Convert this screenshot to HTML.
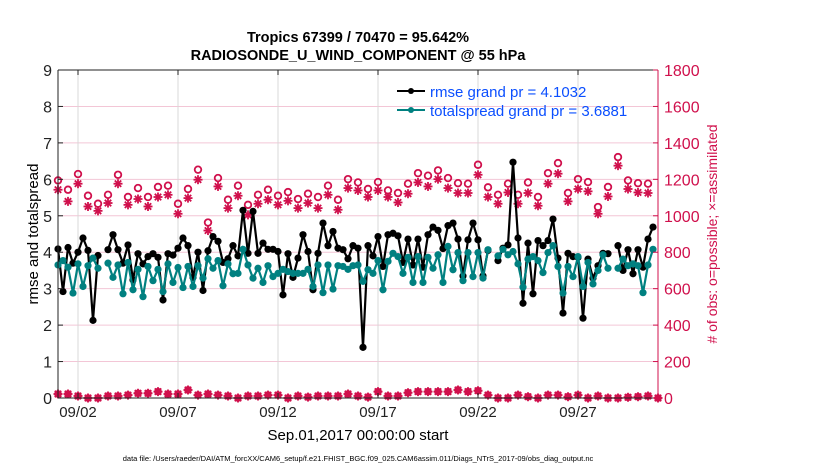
<!DOCTYPE html>
<html><head><meta charset="utf-8"><style>
body{margin:0;background:#fff;}
svg text{font-family:"Liberation Sans",sans-serif;}
</style></head><body>
<svg id="chart" width="830" height="470" viewBox="0 0 830 470" xmlns="http://www.w3.org/2000/svg">
<rect width="830" height="470" fill="#fff"/>
<text x="358" y="42" text-anchor="middle" font-size="14.5" font-weight="bold">Tropics 67399 / 70470 = 95.642%</text>
<text x="358" y="60" text-anchor="middle" font-size="14.5" font-weight="bold">RADIOSONDE_U_WIND_COMPONENT @ 55 hPa</text>
<g id="grid"></g>
<g id="marks"></g>
<g id="axes"></g>
<text transform="translate(38,234) rotate(-90)" text-anchor="middle" font-size="15">rmse and totalspread</text>
<text transform="translate(717,234) rotate(-90)" text-anchor="middle" font-size="14" fill="#d0104c"># of obs: o=possible; ×=assimilated</text>
<text x="358" y="440" text-anchor="middle" font-size="15">Sep.01,2017 00:00:00 start</text>
<text x="358" y="461" text-anchor="middle" font-size="7.5">data file: /Users/raeder/DAI/ATM_forcXX/CAM6_setup/f.e21.FHIST_BGC.f09_025.CAM6assim.011/Diags_NTrS_2017-09/obs_diag_output.nc</text>
<g>
<line x1="397" y1="91" x2="425" y2="91" stroke="#000" stroke-width="2"/>
<circle cx="411" cy="91" r="3" fill="#000"/>
<text x="430" y="97" font-size="15" fill="#0b4fff">rmse grand pr = 4.1032</text>
<line x1="397" y1="110" x2="425" y2="110" stroke="#008080" stroke-width="2"/>
<circle cx="411" cy="110" r="3" fill="#008080"/>
<text x="430" y="116" font-size="15" fill="#0b4fff">totalspread grand pr = 3.6881</text>
</g>
</svg>
<script>
const NS="http://www.w3.org/2000/svg";
const rmse=[4.09,2.92,4.13,3.7,4.0,4.39,4.05,2.13,3.91,null,4.07,4.48,4.07,3.7,4.2,3.24,3.96,3.68,3.88,3.96,3.86,2.69,3.96,3.92,4.11,4.39,4.18,3.31,4.0,2.95,4.04,4.43,4.3,3.72,3.82,4.18,3.9,5.15,3.97,5.12,3.97,4.25,4.08,4.08,4.02,2.83,3.96,3.31,3.84,4.48,4.02,2.97,3.97,4.8,4.18,4.57,4.11,4.07,3.82,4.18,4.11,1.39,4.18,3.9,4.43,3.61,4.48,4.52,4.45,3.72,4.36,3.65,4.36,3.59,4.48,4.69,4.6,4.1,4.73,4.8,4.36,3.35,4.34,4.8,4.34,3.35,4.05,null,3.77,4.11,4.2,6.47,4.39,2.6,4.25,2.86,4.32,4.18,4.32,4.91,3.84,2.33,3.97,3.88,3.86,2.19,3.81,3.29,3.63,3.97,3.96,null,4.18,3.5,4.07,3.41,4.07,3.59,4.36,4.69];
const spread=[3.65,3.77,3.59,2.88,3.68,3.06,3.63,3.84,3.56,null,3.7,3.31,3.65,2.86,3.72,2.97,3.53,2.78,3.61,3.22,3.53,2.92,3.68,3.17,3.58,3.03,3.61,3.06,3.63,3.29,3.82,3.56,3.77,3.08,3.68,3.41,3.42,4.08,3.65,3.29,3.56,3.17,3.63,3.33,3.42,3.53,3.47,3.42,3.42,3.42,3.53,3.06,3.65,2.89,3.65,2.99,3.63,3.61,3.53,3.63,3.65,3.2,3.52,3.42,3.77,2.97,3.75,3.97,3.88,3.42,3.86,3.17,3.88,3.17,3.86,3.56,3.93,3.17,4.16,3.52,3.99,3.22,3.99,3.33,3.99,3.29,4.07,null,3.9,4.08,3.93,4.02,3.68,3.04,3.81,3.88,3.77,3.44,3.99,4.18,3.61,2.88,3.61,3.33,3.88,3.06,3.72,3.13,3.5,3.93,3.56,null,3.56,3.81,3.63,3.68,3.63,2.89,3.65,4.08];
const possibleY=[122,150,103,168,192,165,105,172,145,172,142,138,192,148,90,248,115,180,138,195,165,150,168,157,178,162,172,138,180,118,128,148,127,152,160,132,100,108,92,115,130,132,75,143,165,132,165,128,172,100,70,160,118,127,202,142,52,122,130,132];
const assimY=[150,185,132,200,213,190,132,195,178,200,172,165,222,175,120,272,140,205,168,225,192,180,195,183,205,190,205,165,210,145,152,172,152,172,188,162,128,140,118,145,160,160,105,172,192,158,192,160,198,132,102,185,148,155,222,170,78,148,158,160];
const possibleObs=possibleY.map(v=>Math.round((774-v)/109.2*200));
const assimObs=assimY.map(v=>Math.round((774-v)/109.2*200));
const lowObs=[22,22,11,0,0,11,11,16,26,26,35,22,22,44,16,22,16,11,0,11,11,16,16,0,11,5,11,11,11,22,11,5,35,11,11,29,35,35,35,35,44,35,40,16,0,0,16,7,0,16,16,7,16,0,11,0,0,4,7,11,0];
const leftTicks=[0,1,2,3,4,5,6,7,8,9];
const rightTicks=[0,200,400,600,800,1000,1200,1400,1600,1800];
const xTickDays=[1,6,11,16,21,26];
const xTickLabels=["09/02","09/07","09/12","09/17","09/22","09/27"];

const X0=58,X1=658,Y0=398,Y1=70;
const xs=d=>X0+(X1-X0)*d/30;
const yl=v=>Y0-(Y0-Y1)*v/9;
const yr=v=>Y0-(Y0-Y1)*v/1800;
function mk(tag,attrs,parent){const e=document.createElementNS(NS,tag);for(const k in attrs)e.setAttribute(k,attrs[k]);parent.appendChild(e);return e;}
const grid=document.getElementById('grid'),marks=document.getElementById('marks'),axes=document.getElementById('axes');

leftTicks.forEach(t=>{if(t>0&&t<9){const l=mk('line',{x1:X0,x2:X1,y1:yl(t),y2:yl(t),stroke:'#f3c6d6','stroke-width':1},grid);

}});
xTickDays.forEach(d=>{const l=mk('line',{x1:xs(d),x2:xs(d),y1:Y1,y2:Y0,stroke:'#d8d8d8','stroke-width':1},grid);

});

function series(vals,color,name,r){
  let seg=[];const segs=[];
  vals.forEach((v,i)=>{if(v==null){if(seg.length)segs.push(seg);seg=[];}else seg.push([xs(i*0.25),yl(v)]);});
  if(seg.length)segs.push(seg);
  segs.forEach(s=>{const p=mk('polyline',{points:s.map(q=>q.join(',')).join(' '),fill:'none',stroke:color,'stroke-width':2.2},marks);
  
  });
  vals.forEach((v,i)=>{if(v==null)return;const c=mk('circle',{cx:xs(i*0.25),cy:yl(v),r:r,fill:color},marks);
  
  });
}
function star(x,y,name){const g=mk('g',{stroke:'#d0104c','stroke-width':1.8},marks);


[[0,4.5],[4.5,0],[3.2,3.2],[3.2,-3.2]].forEach(([a,b])=>mk('line',{x1:x-a,y1:y-b,x2:x+a,y2:y+b},g));}
possibleObs.forEach((v,i)=>{const c=mk('circle',{cx:xs(i*0.5),cy:yr(v),r:3.3,fill:'none',stroke:'#d0104c','stroke-width':1.8},marks);

});
assimObs.forEach((v,i)=>star(xs(i*0.5),yr(v),'assimilated-obs-marker'));
lowObs.forEach((v,i)=>{const c=mk('circle',{cx:xs(i*0.5),cy:yr(v),r:3.8,fill:'#d0104c'},marks);


star(xs(i*0.5),yr(v),'low-count-obs-star');});
series(rmse,'#000','rmse',3.6);
series(spread,'#008080','totalspread',3.6);

mk('line',{x1:X0,x2:X1,y1:Y1,y2:Y1,stroke:'#222','stroke-width':1},axes);
mk('line',{x1:X0,x2:X1,y1:Y0,y2:Y0,stroke:'#222','stroke-width':1},axes);
mk('line',{x1:X0,x2:X0,y1:Y1,y2:Y0,stroke:'#222','stroke-width':1},axes);
mk('line',{x1:X1,x2:X1,y1:Y1,y2:Y0,stroke:'#d0104c','stroke-width':1},axes);
leftTicks.forEach(t=>{mk('line',{x1:X0,x2:X0+5,y1:yl(t),y2:yl(t),stroke:'#222'},axes);
const tx=mk('text',{x:X0-6,y:yl(t)+6,'text-anchor':'end','font-size':16,fill:'#222'},axes);tx.textContent=t;

});
rightTicks.forEach(t=>{mk('line',{x1:X1-5,x2:X1,y1:yr(t),y2:yr(t),stroke:'#d0104c'},axes);
const tx=mk('text',{x:X1+6,y:yr(t)+6,'font-size':16,fill:'#d0104c'},axes);tx.textContent=t;

});
xTickDays.forEach((d,i)=>{mk('line',{x1:xs(d),x2:xs(d),y1:Y0,y2:Y0-5,stroke:'#222'},axes);mk('line',{x1:xs(d),x2:xs(d),y1:Y1,y2:Y1+5,stroke:'#222'},axes);
const tx=mk('text',{x:xs(d),y:Y0+19,'text-anchor':'middle','font-size':15,fill:'#222'},axes);tx.textContent=xTickLabels[i];

});
</script>
</body></html>
